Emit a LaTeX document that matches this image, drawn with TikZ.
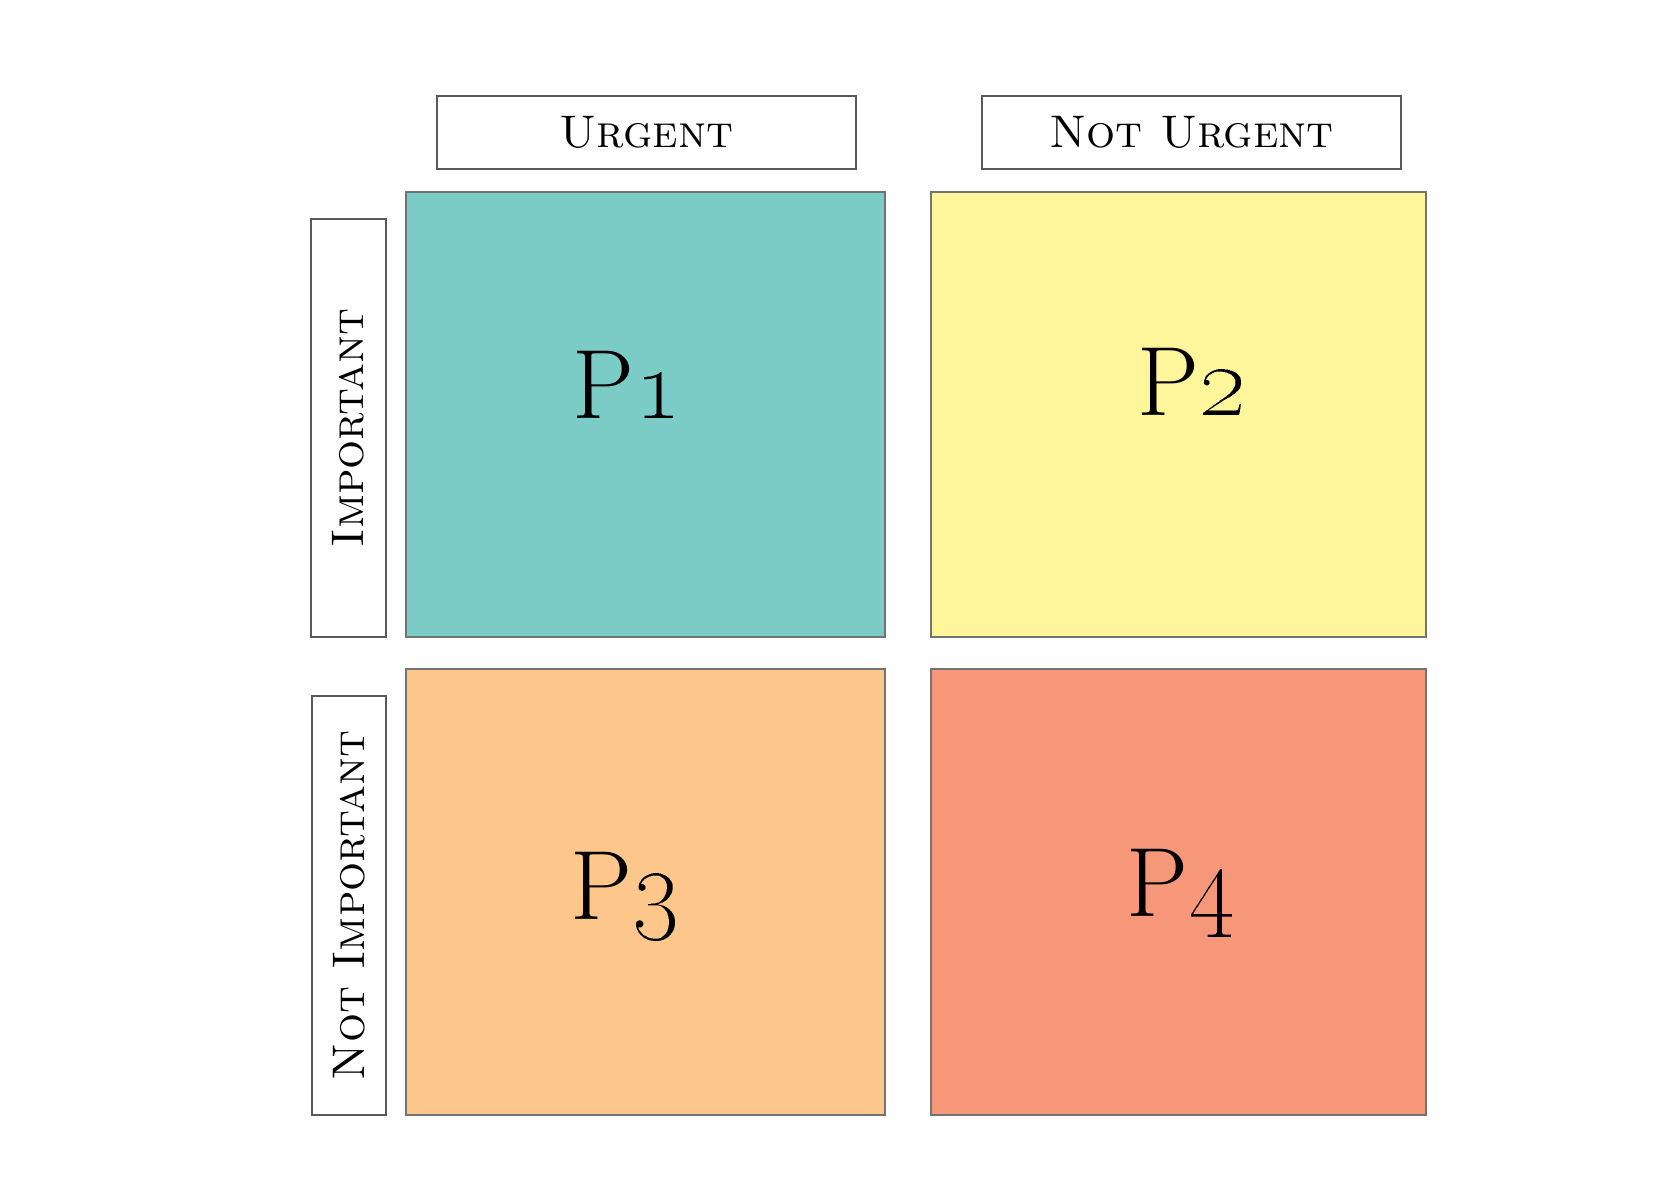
\documentclass[tikz,border=0pt]{standalone}
\usepackage{tikz}

\definecolor{pone}{HTML}{7BCCC7}
\definecolor{ptwo}{HTML}{FFF59B}
\definecolor{pthree}{HTML}{FDC68A}
\definecolor{pfour}{HTML}{F7977A}

\tikzset{
  tagbox/.style={draw=black!65, line width=0.4pt, fill=white, inner sep=0pt,
    font=\fontsize{13}{16}\selectfont\scshape},
  quad/.style={draw=black!55, line width=0.4pt, inner sep=0pt},
  prio/.style={anchor=base, font=\fontsize{28}{34}\selectfont}
}

\begin{document}
\begin{tikzpicture}[x=0.01cm, y=-0.01cm]

  \newcommand\PX{0.01cm}

  \useasboundingbox (0,0) rectangle (1680,1200);

  % column heads
  \node[tagbox, minimum width=419*\PX, minimum height=73*\PX] (urg) at (646.5,132.5) {Urgent};
  \node[tagbox, minimum width=419*\PX, minimum height=73*\PX] (nurg) at (1191.5,132.5) {Not Urgent};

  % row heads
  \node[tagbox, rotate=90, minimum width=418*\PX, minimum height=75*\PX] (imp) at (348.5,428) {Important};
  \node[tagbox, rotate=90, minimum width=419*\PX, minimum height=74*\PX] (nimp) at (349,905.5) {Not Important};

  % quadrants
  \node[quad, fill=pone,   minimum width=479*\PX, minimum height=445*\PX] (q1) at (645.5,414.5) {};
  \node[quad, fill=ptwo,   minimum width=495*\PX, minimum height=445*\PX] (q2) at (1178.5,414.5) {};
  \node[quad, fill=pthree, minimum width=479*\PX, minimum height=446*\PX] (q3) at (645.5,892) {};
  \node[quad, fill=pfour,  minimum width=495*\PX, minimum height=446*\PX] (q4) at (1178.5,892) {};

  \node[prio] (l1) at (627,418) {P\oldstylenums{1}};
  \node[prio] (l2) at (1192,415) {P\oldstylenums{2}};
  \node[prio] (l3) at (625,919) {P\oldstylenums{3}};
  \node[prio] (l4) at (1181,916) {P\oldstylenums{4}};

\end{tikzpicture}
\end{document}
